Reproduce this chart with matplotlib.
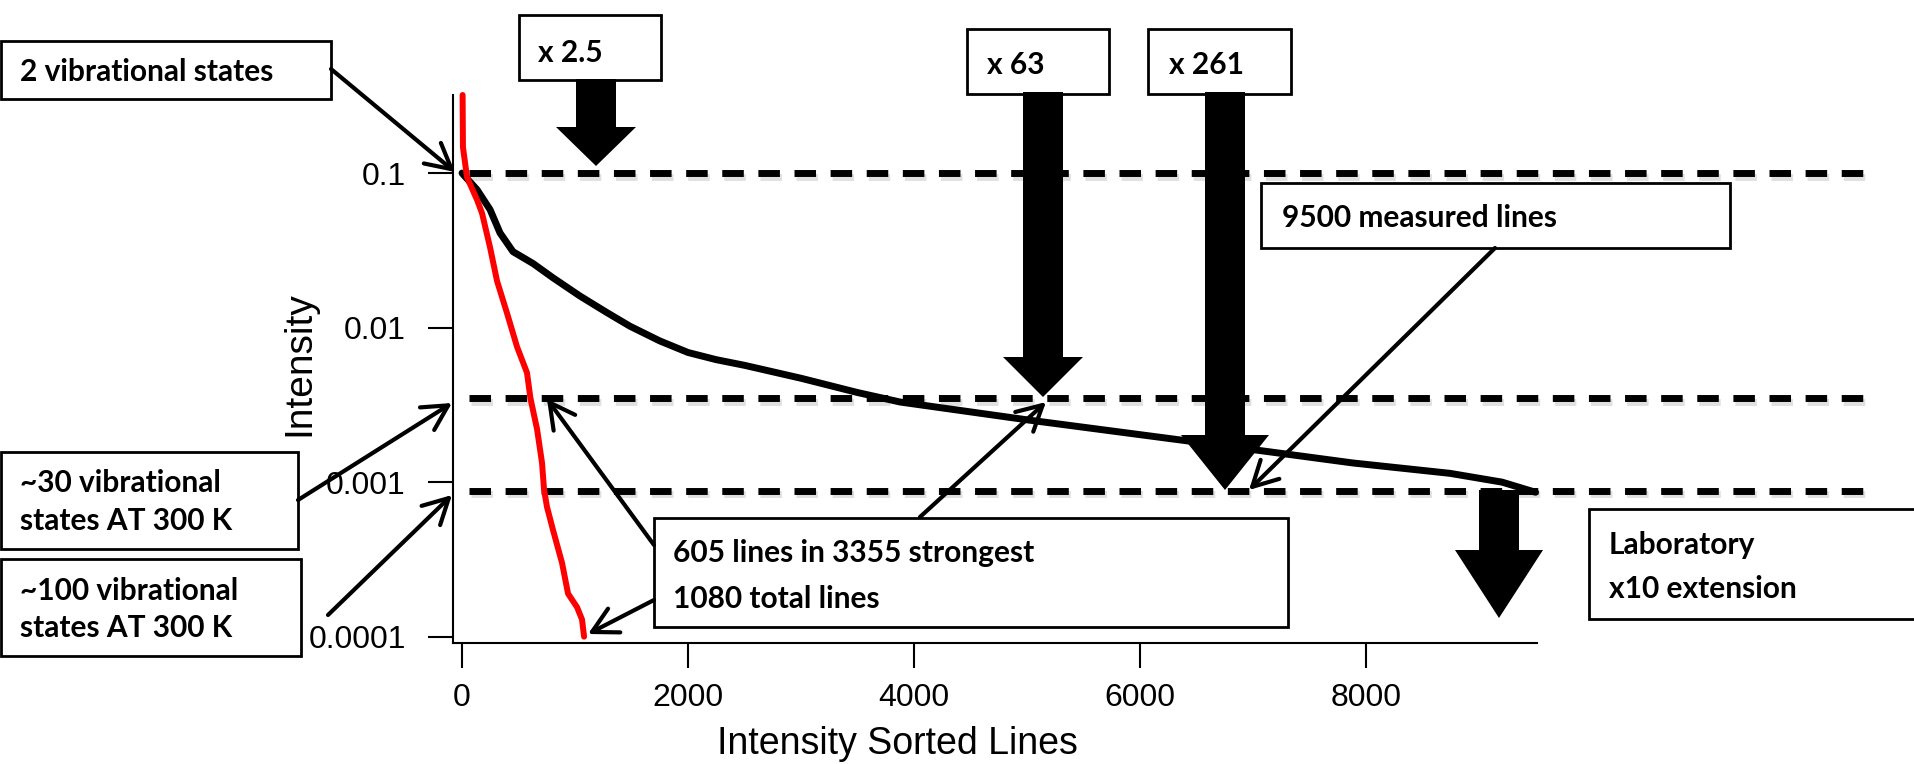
import matplotlib
matplotlib.use("Agg")
import matplotlib.pyplot as plt
import matplotlib.patheffects as pe
from matplotlib.patches import Rectangle, FancyArrow, FancyArrowPatch
from matplotlib.ticker import NullLocator

# measured lines, sorted by intensity
measured_idx = [0, 10, 133, 248, 336, 451, 628, 805, 1044, 1283, 1487, 1750, 2000,
                2250, 2500, 3000, 3500, 3876, 5018, 6566, 7885, 8743, 9204, 9500]
measured_int = [0.100, 0.098, 0.078, 0.058, 0.041, 0.031, 0.026, 0.021, 0.0160, 0.0125,
                0.0102, 0.0082, 0.0069, 0.0062, 0.0057, 0.0047, 0.0038, 0.0033, 0.00252,
                0.00179, 0.00133, 0.00114, 0.00100, 0.00086]

# calculated lines, sorted by intensity
calc_idx = [5, 8, 44, 133, 177, 248, 310, 398, 487, 575, 605, 664, 708, 726, 752,
            805, 885, 938, 1018, 1062, 1080]
calc_int = [0.32, 0.147, 0.094, 0.067, 0.055, 0.033, 0.020, 0.0124, 0.0075, 0.0051,
            0.0035, 0.0022, 0.00133, 0.00089, 0.00069, 0.00049, 0.00030, 0.00019,
            0.000155, 0.000129, 0.0001]

levels = [0.1, 0.0035, 0.00088]
xticks = [0, 2000, 4000, 6000, 8000]
yticks = [0.0001, 0.001, 0.01, 0.1]
ytick_labels = ["0.0001", "0.001", "0.01", "0.1"]

W, H = 1915, 764
fig = plt.figure(figsize=(W / 100, H / 100), dpi=100)
ax = fig.add_axes([453 / W, 1 - 643 / H, (1537 - 453) / W, (643 - 95) / H])

ax.set_yscale("log")
ax.set_xlim(-80, 9513)
ax.set_ylim(9.1e-5, 0.32)
for s in ("top", "right"):
    ax.spines[s].set_visible(False)
for s in ("left", "bottom"):
    ax.spines[s].set_linewidth(1.5)
ax.set_xticks(xticks)
ax.set_xticklabels([str(t) for t in xticks])
ax.set_yticks(yticks)
ax.set_yticklabels(ytick_labels)
ax.yaxis.set_minor_locator(NullLocator())
ax.tick_params(axis="both", direction="out", length=18, width=1.5, labelsize=23)
ax.tick_params(axis="y", pad=16)
ax.tick_params(axis="x", pad=11)
for lab in ax.get_xticklabels() + ax.get_yticklabels():
    lab.set_fontfamily("Liberation Sans")

shadow = [pe.SimpleLineShadow(offset=(1.5, -2.5), alpha=0.12, shadow_color="k"), pe.Normal()]
ax.hlines(levels, 60, 12425, colors="black", linewidth=5, linestyles=(0, (3.1, 2.1)),
          clip_on=False, zorder=2, path_effects=shadow)
ax.plot(measured_idx, measured_int, color="black", linewidth=5, zorder=3,
        solid_capstyle="round", solid_joinstyle="round", clip_on=False)
ax.plot(calc_idx, calc_int, color="#ff0000", linewidth=4.3, zorder=4,
        solid_capstyle="round", solid_joinstyle="round", clip_on=False)

fig.text(897 / W, 1 - 744 / H, "Intensity Sorted Lines", ha="center", va="center",
         fontsize=27, family="Liberation Sans")
fig.text(299 / W, 1 - 364 / H, "Intensity", ha="center", va="center", rotation=90,
         fontsize=28, family="Liberation Sans")

# callouts drawn in pixel space on top of the plot
ov = fig.add_axes([0, 0, 1, 1], zorder=5)
ov.set_xlim(0, W)
ov.set_ylim(H, 0)
ov.axis("off")
ov.patch.set_visible(False)

boxes = [
    ((1, 41, 331, 99), [(20, 81, "2 vibrational states")]),
    ((519, 15, 661, 80), [(538, 62, "x 2.5")]),
    ((967, 29, 1109, 94), [(987, 74, "x 63")]),
    ((1148, 29, 1291, 94), [(1169, 74, "x 261")]),
    ((1261, 183, 1730, 248), [(1282, 227, "9500 measured lines")]),
    ((654, 518, 1288, 627), [(673, 562, "605 lines in 3355 strongest"),
                             (673, 608, "1080 total lines")]),
    ((1, 452, 298, 549), [(20, 492, "~30 vibrational"), (20, 530, "states AT 300 K")]),
    ((1, 559, 301, 656), [(20, 600, "~100 vibrational"), (20, 637, "states AT 300 K")]),
    ((1589, 509, 1930, 619), [(1609, 554, "Laboratory"), (1609, 598, "x10 extension")]),
]
for (x0, y0, x1, y1), lines in boxes:
    ov.add_patch(Rectangle((x0, y0), x1 - x0, y1 - y0, facecolor="white",
                           edgecolor="black", linewidth=2, zorder=2))
    for tx, ty, s in lines:
        ov.text(tx, ty, s, fontsize=21.5, fontweight="bold", family="Lato",
                va="baseline", ha="left", zorder=3)

# block arrows: (centre x, top, tip, head width, head length)
blocks = [(596, 79, 166, 80, 39), (1043, 92, 397, 80, 40),
          (1225, 92, 490, 88, 55), (1499, 490, 618, 88, 68)]
for cx, top, tip, hw, hl in blocks:
    ov.add_patch(FancyArrow(cx, top, 0, tip - top, width=40, head_width=hw,
                            head_length=hl, length_includes_head=True,
                            color="black", linewidth=0, zorder=4))

pointers = [
    ((331, 69), (455, 172)),
    ((298, 500), (452, 403)),
    ((328, 615), (452, 495)),
    ((654, 545), (547, 399)),
    ((654, 600), (588, 634)),
    ((920, 517), (1046, 402)),
    ((1495, 248), (1249, 490)),
]
for a, b in pointers:
    ov.add_patch(FancyArrowPatch(a, b, arrowstyle="->,head_length=0.75,head_width=0.4",
                                 mutation_scale=24, linewidth=3, color="black",
                                 shrinkA=0, shrinkB=0, zorder=5))

fig.savefig("out.png", dpi=100, facecolor="white")
